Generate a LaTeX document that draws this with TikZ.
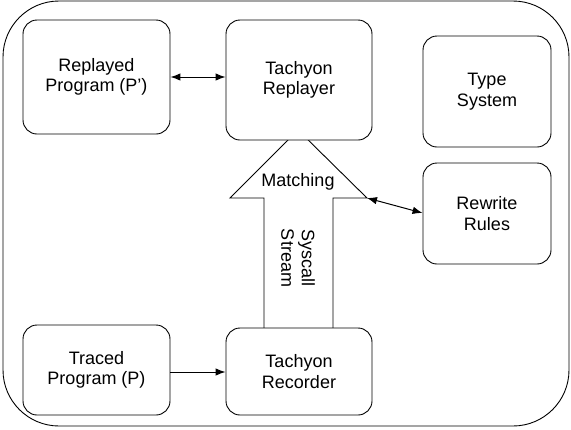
\documentclass[tikz,border=0pt]{standalone}
\usepackage{fontspec}
\setmainfont{Liberation Sans}
\usetikzlibrary{arrows.meta}
\begin{document}
\begin{tikzpicture}[x=1pt,y=-1pt,
  box/.style={draw,line width=0.9pt,rounded corners=14pt,fill=white,align=center,
    font=\fontsize{18}{20.5}\selectfont},
  conn/.style={line width=1pt,{Latex[length=10pt,width=7.5pt]}-{Latex[length=10pt,width=7.5pt]}},
  lbl/.style={align=center,font=\fontsize{18}{20.5}\selectfont}]
\useasboundingbox (0,0) rectangle (571,429);
\draw[line width=0.9pt,rounded corners=56pt] (3,1) rectangle (569,426);
% big arrow
\draw[line width=0.9pt,fill=white] (264,328) -- (264,198) -- (230,198) -- (298,130) -- (367,198) -- (333,198) -- (333,328);
\coordinate (hr) at (367,198);
\node[lbl] (match) at (298,182) {Matching};
\node[lbl,rotate=-90] (sys) at (298,258) {Syscall\\Stream};
% boxes
\node[box,minimum width=147pt,minimum height=114pt] (rp) at (96.5,77) {Replayed\\Program (P{\char"27})};
\node[box,minimum width=146pt,minimum height=120pt] (tr) at (299,80) {Tachyon\\Replayer};
\node[box,minimum width=128pt,minimum height=111pt] (ts) at (487,91.5) {Type\\System};
\node[box,minimum width=128pt,minimum height=101pt] (rr) at (487,213.5) {Rewrite\\Rules};
\node[box,minimum width=147pt,minimum height=90pt] (tp) at (96.5,370) {Traced\\Program (P)};
\node[box,minimum width=146pt,minimum height=87pt] (rec) at (299,371.5) {Tachyon\\Recorder};
% connectors
\draw[conn] (rp.east|-0,77) -- (tr.west|-0,77);
\draw[conn] (hr) -- (rr.west|-0,213);
\draw[line width=1pt,-{Latex[length=10pt,width=7.5pt]}] (tp.east|-0,372) -- (rec.west|-0,372);
\end{tikzpicture}
\end{document}
